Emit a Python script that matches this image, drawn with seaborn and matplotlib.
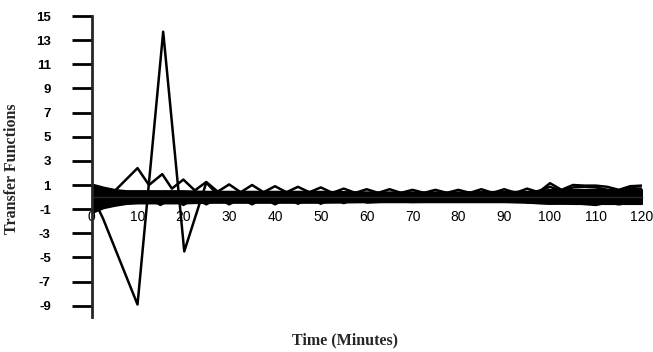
import matplotlib
matplotlib.use("Agg")
import matplotlib.pyplot as plt
from matplotlib import font_manager as fm
import seaborn as sns
import pandas as pd

# ---------------- data ----------------
# large oscillating transfer function (spike series)
spike_t = [0, 2.5, 10, 15.6, 20.2, 25, 27.5, 30, 40, 50, 60, 70, 80, 90, 100, 110, 120]
spike_v = [0.2, -1.8, -8.9, 13.7, -4.5, 1.2, 0.2, 0.1, 0.1, 0.0, 0.1, 0.0, 0.1, 0.0, 0.1, 0.0, 0.1]

# upper zig-zag series
upper_t = [5, 10, 12.5, 15.4, 17.5, 20, 22.5, 25, 27.5, 30, 32.5, 35, 37.5, 40, 42.5,
           45, 47.5, 50, 52.5, 55, 57.5, 60, 62.5, 65, 67.5, 70, 72.5, 75, 77.5, 80,
           82.5, 85, 87.5, 90, 92.5, 95, 97.5, 100, 102.5, 105, 107.5, 110, 112.5,
           115, 117.5, 120]
upper_v = [0.5, 2.4, 1.0, 1.9, 0.7, 1.45, 0.55, 1.25, 0.45, 1.05, 0.4, 1.0, 0.4, 0.9, 0.4,
           0.85, 0.4, 0.8, 0.35, 0.7, 0.35, 0.65, 0.35, 0.65, 0.35, 0.6, 0.35, 0.6, 0.35, 0.6,
           0.35, 0.65, 0.35, 0.65, 0.35, 0.7, 0.4, 1.15, 0.6, 1.0, 0.95, 0.95, 0.85,
           0.6, 0.9, 0.95]

# lower zig-zag series
lower_t = [7.5, 10, 12.5, 15, 17.5, 20, 22.5, 25, 27.5, 30, 32.5, 35, 37.5, 40, 42.5,
           45, 47.5, 50, 52.5, 55, 57.5, 60, 65, 70, 80, 90, 100, 110, 120]
lower_v = [-0.4, -0.3, -0.1, -0.65, -0.1, -0.65, -0.1, -0.6, -0.1, -0.6, -0.1, -0.6, -0.1, -0.6, -0.1,
           -0.55, -0.1, -0.55, -0.1, -0.5, -0.1, -0.45, -0.35, -0.4, -0.35, -0.35, -0.4, -0.35, -0.35]

# late series (100-120 min)
late_t = [95, 97.5, 100, 102.5, 105, 107.5, 110, 112.5, 115, 117.5, 120]
late_v = [0.4, 0.5, 0.85, 0.5, 0.8, 0.85, 0.8, 0.6, 0.55, 0.75, 0.7]
late2_t = [95, 100, 105, 110, 112.5, 115, 117.5, 120]
late2_v = [-0.45, -0.55, -0.5, -0.65, -0.45, -0.6, -0.45, -0.55]

# dense bundle of the remaining transfer functions (envelope)
band_t = [0, 2.5, 5, 7.5, 10, 15, 20, 25, 30, 40, 50, 60, 70, 80, 90, 95, 100, 105, 110, 115, 120]
band_hi = [1.1, 0.85, 0.65, 0.55, 0.55, 0.55, 0.55, 0.5, 0.5, 0.5, 0.5, 0.45, 0.45, 0.45, 0.5,
           0.5, 0.65, 0.65, 0.65, 0.65, 0.65]
band_lo = [-1.3, -0.9, -0.7, -0.55, -0.5, -0.5, -0.5, -0.45, -0.45, -0.45, -0.45, -0.4,
           -0.4, -0.4, -0.4, -0.45, -0.5, -0.55, -0.55, -0.55, -0.55]

x_ticks = [0, 10, 20, 30, 40, 50, 60, 70, 80, 90, 100, 110, 120]
y_ticks = [-9, -7, -5, -3, -1, 1, 3, 5, 7, 9, 11, 13, 15]
x_label = "Time (Minutes)"
y_label = "Transfer Functions"

# ---------------- style ----------------
sns.set_style("ticks")
names = {f.name for f in fm.fontManager.ttflist}
serif = "Liberation Serif" if "Liberation Serif" in names else "DejaVu Serif"
sans = "Liberation Sans" if "Liberation Sans" in names else "DejaVu Sans"
plt.rcParams["font.family"] = [sans, "DejaVu Sans"]

frames = []
for name, t, v in [("spike", spike_t, spike_v), ("upper", upper_t, upper_v),
                   ("lower", lower_t, lower_v), ("late", late_t, late_v),
                   ("late2", late2_t, late2_v)]:
    frames.append(pd.DataFrame({"series": name, "time": t, "value": v}))
df = pd.concat(frames, ignore_index=True)

fig = plt.figure(figsize=(6.53, 3.52), dpi=100)
ax = fig.add_axes([0.1404, 0.1006, 0.8423, 0.8539])

ax.fill_between(band_t, band_lo, band_hi, color="black", linewidth=1.2, edgecolor="black")
sns.lineplot(data=df, x="time", y="value", units="series", estimator=None,
             color="black", linewidth=1.8, sort=False, ax=ax, legend=False)

ax.set_xlim(0, 120)
ax.set_ylim(-9.9, 15)
ax.set_xticks(x_ticks)
ax.set_yticks(y_ticks)
ax.set_xticklabels([str(v) for v in x_ticks], fontsize=9.5, fontweight="bold", family=sans)
ax.set_yticklabels([str(v) for v in y_ticks], fontsize=9.5, fontweight="bold", family=sans)

for s in ["top", "right"]:
    ax.spines[s].set_visible(False)
ax.spines["left"].set_linewidth(2)
ax.spines["bottom"].set_position(("data", 0))
ax.spines["bottom"].set_linewidth(1)

ax.tick_params(axis="y", direction="out", length=14.4, width=2, pad=15, colors="black")
ax.tick_params(axis="x", length=0, pad=9.5, colors="black")

ax.set_xlabel(x_label, fontsize=11.5, fontweight="bold", family=serif)
ax.set_ylabel(y_label, fontsize=11.5, fontweight="bold", family=serif)
ax.xaxis.set_label_coords(0.4606, -0.051)
ax.yaxis.set_label_coords(-0.130, 0.491)

fig.savefig("out.png", dpi=100)
